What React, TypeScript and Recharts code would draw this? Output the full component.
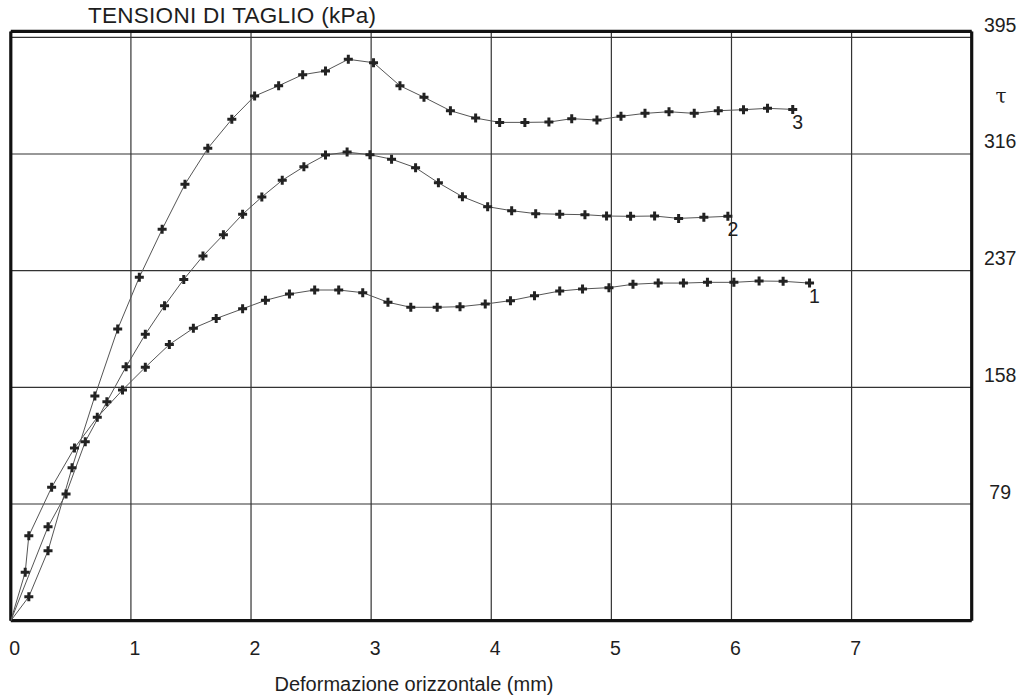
import { LineChart, Line, XAxis, YAxis, CartesianGrid, ReferenceLine, LabelList } from "recharts"

// Deformazione orizzontale (mm) / tensione di taglio (kPa)
const strain1 = [0, 0.12, 0.15, 0.34, 0.53, 0.72, 0.93, 1.12, 1.32, 1.52, 1.71, 1.93, 2.12, 2.32, 2.53, 2.73, 2.93, 3.14, 3.33, 3.55, 3.74, 3.95, 4.16, 4.36, 4.57, 4.76, 4.98, 5.18, 5.39, 5.6, 5.8, 6.02, 6.23, 6.43, 6.65]
const shear1 = [0, 32.8, 57.5, 90.3, 116.9, 137.7, 156.2, 171.6, 187.0, 198.0, 204.6, 211.2, 216.9, 221.2, 223.9, 223.9, 222.1, 215.6, 212.2, 212.2, 212.6, 214.4, 216.7, 220.0, 223.2, 224.6, 225.5, 227.8, 228.6, 228.6, 229.1, 229.1, 230.0, 229.8, 228.6]

const strain2 = [0, 0.31, 0.46, 0.62, 0.8, 0.96, 1.12, 1.28, 1.44, 1.6, 1.77, 1.93, 2.09, 2.26, 2.44, 2.62, 2.8, 2.99, 3.17, 3.37, 3.56, 3.76, 3.97, 4.17, 4.37, 4.57, 4.78, 4.96, 5.16, 5.36, 5.56, 5.77, 5.97]
const shear2 = [0, 63.6, 85.8, 121.2, 148.3, 172.0, 193.9, 213.3, 231.1, 246.9, 261.3, 275.2, 286.9, 298.2, 307.4, 315.3, 317.3, 315.5, 312.5, 306.7, 296.5, 287.1, 280.3, 277.6, 275.6, 275.2, 274.9, 274.0, 273.8, 274.0, 272.4, 273.1, 273.8]

const strain3 = [0, 0.15, 0.31, 0.51, 0.7, 0.89, 1.07, 1.26, 1.45, 1.64, 1.84, 2.03, 2.23, 2.43, 2.62, 2.81, 3.02, 3.24, 3.44, 3.66, 3.87, 4.07, 4.28, 4.48, 4.67, 4.88, 5.08, 5.28, 5.48, 5.69, 5.89, 6.1, 6.3, 6.51]
const shear3 = [0, 16.2, 47.4, 103.6, 152.1, 197.5, 232.5, 265.0, 295.5, 319.8, 339.5, 355.2, 362.2, 369.7, 372.2, 380.1, 377.8, 362.2, 354.4, 345.3, 340.3, 337.4, 337.4, 337.6, 339.9, 339.0, 341.5, 343.5, 344.6, 343.5, 345.3, 346.0, 346.9, 346.2]

const curveNames = ["1", "2", "3"]
const xTicks = [0, 1, 2, 3, 4, 5, 6, 7, 8]
const yTicks = [0, 79, 158, 237, 316, 395]

const title = "TENSIONI DI TAGLIO (kPa)"
const xTitle = "Deformazione orizzontale (mm)"
const yTitle = "τ"

const FONT = "'Liberation Sans', Arial, Helvetica, sans-serif"
const INK = "#1e1e1e"

const toPoints = (xs: number[], ys: number[]) => xs.map((x, i) => ({ x, y: ys[i] }))
const curves = [
  toPoints(strain1, shear1),
  toPoints(strain2, shear2),
  toPoints(strain3, shear3),
]

/* ── marks ── */

// eslint-disable-next-line @typescript-eslint/no-explicit-any
function PlusDot({ cx, cy, index }: any) {
  if (index === 0 || cx == null || cy == null) return <g key={`d-${index}`} />
  return (
    <path
      key={`d-${index}`}
      d={`M ${cx - 4.5},${cy} H ${cx + 4.5} M ${cx},${cy - 4.5} V ${cy + 4.5}`}
      stroke="#222"
      strokeWidth={3}
    />
  )
}

function endLabel(name: string, last: number) {
  // eslint-disable-next-line @typescript-eslint/no-explicit-any
  return ({ x, y, index }: any) =>
    index === last ? (
      <text x={x + 5} y={y + 20} fontSize={19.5} fontFamily={FONT} fill={INK} textAnchor="middle">
        {name}
      </text>
    ) : null
}

// eslint-disable-next-line @typescript-eslint/no-explicit-any
function XTick({ x, y, payload }: any) {
  if (payload.value === 8) return null
  return (
    <text x={x + 4} y={y + 34} fontSize={19.5} fontFamily={FONT} fill={INK} textAnchor="middle">
      {payload.value}
    </text>
  )
}

// eslint-disable-next-line @typescript-eslint/no-explicit-any
function YTick({ x, y, payload }: any) {
  if (payload.value === 0) return null
  return (
    <text x={x + 28.5} y={y - 5.5} fontSize={19.5} fontFamily={FONT} fill={INK} textAnchor="middle">
      {payload.value}
    </text>
  )
}

export default function App() {
  return (
    <div style={{ position: "absolute", left: 0, top: 0, width: 1028, height: 699, background: "#fff" }}>
      <svg width={1028} height={40} style={{ position: "absolute", left: 0, top: 0 }}>
        <text x={88} y={22.7} fontSize={22.5} fontFamily={FONT} fill={INK} textLength={288} lengthAdjust="spacing">
          {title}
        </text>
      </svg>
      <LineChart
        width={1028}
        height={699}
        margin={{ top: 31.4, right: 6.3, left: 10.8, bottom: 38.3 }}
        style={{ position: "absolute", left: 0, top: 0 }}
      >
        <CartesianGrid stroke="#333" strokeWidth={1.2} />
        <XAxis
          type="number"
          dataKey="x"
          domain={[0, 8]}
          ticks={xTicks}
          allowDataOverflow
          axisLine={false}
          tickLine={false}
          tickSize={0}
          tickMargin={0}
          height={40}
          tick={<XTick />}
          label={() => (
            <text x={414} y={691} fontSize={20} fontFamily={FONT} fill={INK} textAnchor="middle">
              {xTitle}
            </text>
          )}
        />
        <YAxis
          type="number"
          orientation="right"
          domain={[0, 399]}
          ticks={yTicks}
          allowDataOverflow
          axisLine={false}
          tickLine={false}
          tickSize={0}
          tickMargin={0}
          width={50}
          tick={<YTick />}
          label={() => (
            <text x={1001} y={103} fontSize={20} fontFamily="'DejaVu Serif', 'Liberation Serif', serif" fill={INK} textAnchor="middle">
              {yTitle}
            </text>
          )}
        />
        <ReferenceLine x={0} stroke="#111" strokeWidth={3.2} />
        <ReferenceLine x={8} stroke="#111" strokeWidth={3.2} />
        <ReferenceLine y={0} stroke="#111" strokeWidth={3.2} />
        <ReferenceLine y={399} stroke="#111" strokeWidth={3.2} />
        {curves.map((pts, k) => (
          <Line
            key={curveNames[k]}
            data={pts}
            dataKey="y"
            type="linear"
            stroke="#555"
            strokeWidth={1}
            dot={PlusDot}
            activeDot={false}
            isAnimationActive={false}
          >
            <LabelList dataKey="y" content={endLabel(curveNames[k], pts.length - 1)} />
          </Line>
        ))}
      </LineChart>
    </div>
  )
}
